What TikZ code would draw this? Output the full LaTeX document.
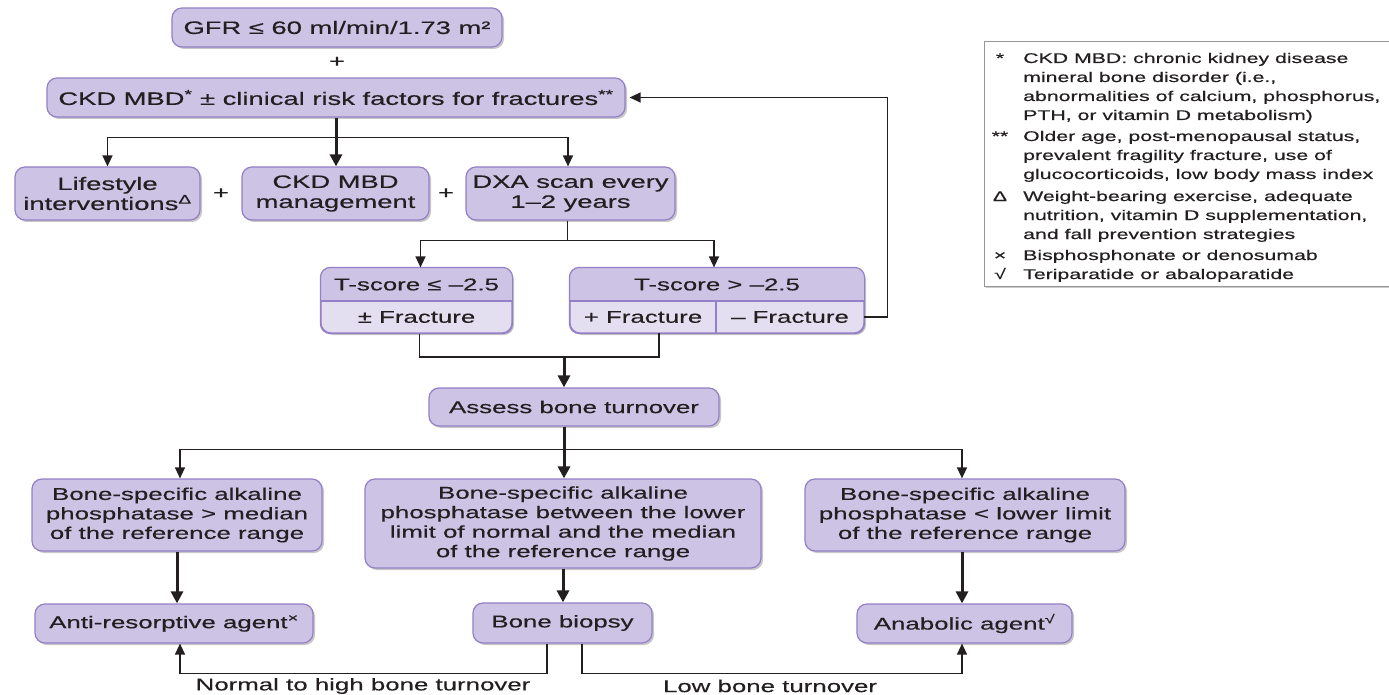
\documentclass[tikz,border=0pt]{standalone}
\usepackage{fontspec}
\setmainfont{Liberation Sans}[FakeStretch=1.52,FakeBold=0.4]
\usetikzlibrary{arrows.meta,shadows,calc}
\definecolor{boxfill}{RGB}{204,195,229}
\definecolor{boxlight}{RGB}{227,222,240}
\definecolor{boxline}{RGB}{148,128,198}
\definecolor{ink}{RGB}{35,31,32}
\definecolor{legline}{RGB}{150,150,150}
\newcommand\mainsz{\fontsize{17}{19.5}\selectfont}
\newcommand\topsz{\fontsize{18}{20}\selectfont}
\newcommand\legsz{\fontsize{14}{19}\selectfont}
\begin{document}
\begin{tikzpicture}[x=1pt,y=-1pt,
  every node/.style={text=ink},
  box/.style={draw=boxline, line width=1.2pt, fill=boxfill, rounded corners=10pt,
    align=center, inner sep=0pt, font=\mainsz,
    drop shadow={shadow xshift=2pt,shadow yshift=-2pt,opacity=0.22,fill=black}},
  topbox/.style={box, font=\topsz},
  cell/.style={inner sep=0pt, align=center, font=\mainsz},
  plus/.style={inner sep=0pt, font=\topsz},
  ln/.style={draw=ink, line width=1.3pt},
  lnthick/.style={draw=ink, line width=3pt},
  arr/.style={ln, -{Triangle[length=11pt,width=10pt]}},
  arrthick/.style={lnthick, -{Triangle[length=12pt,width=12pt]}},
  legtext/.style={inner sep=0pt, font=\legsz, anchor=base west},
  legsym/.style={inner sep=0pt, font=\legsz, anchor=base},
  lbl/.style={inner sep=0pt, font=\mainsz}]
\useasboundingbox (0,0) rectangle (1389,695);

% ---------- upper part ----------
\node[topbox, minimum width=330, minimum height=39] (gfr) at (337,27.5) {GFR ≤ 60 ml/min/1.73 m²};
\node[plus] (p0) at (337,62) {+};
\node[topbox, minimum width=578, minimum height=39] (ckd) at (336,97.5)
  {CKD MBD\textsuperscript{*} ± clinical risk factors for fractures\textsuperscript{**}};

\node[topbox, minimum width=185, minimum height=53] (life) at (107.5,193.5) {Lifestyle\\interventions\textsuperscript{Δ}};
\node[plus] (p1) at (221,193.5) {+};
\node[topbox, minimum width=187, minimum height=53] (mgmt) at (335.5,193.5) {CKD MBD\\management};
\node[plus] (p2) at (446,193.5) {+};
\node[topbox, minimum width=209, minimum height=53] (dxa) at (570.5,193.5) {DXA scan every\\1–2 years};

% ---------- T-score boxes (two rows each) ----------
\node[box, fill=boxlight, minimum width=191, minimum height=65] (tle) at (416.5,300.5) {};
\node[box, fill=boxlight, minimum width=294, minimum height=65] (tgt) at (717,300.5) {};
\begin{scope}
  \clip[rounded corners=10pt] (tle.north west) rectangle (tle.south east);
  \fill[boxfill] (tle.north west) rectangle (tle.east |- 0,301);
\end{scope}
\begin{scope}
  \clip[rounded corners=10pt] (tgt.north west) rectangle (tgt.south east);
  \fill[boxfill] (tgt.north west) rectangle (tgt.east |- 0,301);
\end{scope}
\draw[boxline, line width=1.2pt, rounded corners=10pt] (tle.north west) rectangle (tle.south east);
\draw[boxline, line width=1.2pt, rounded corners=10pt] (tgt.north west) rectangle (tgt.south east);
\draw[boxline, line width=1.2pt] (tle.west |- 0,301) -- (tle.east |- 0,301);
\draw[boxline, line width=1.2pt] (tgt.west |- 0,301) -- (tgt.east |- 0,301);
\draw[boxline, line width=1.2pt] (716,301) -- (716,333);

\node[cell] (tletop) at (416.5,284.5) {T-score ≤ –2.5};
\node[cell, minimum width=191, minimum height=32] (tlebot) at (416.5,317) {± Fracture};
\node[cell] (tgttop) at (717,284.5) {T-score > –2.5};
\node[cell, minimum width=146, minimum height=32] (tgp) at (643,317) {+ Fracture};
\node[cell, minimum width=148, minimum height=32] (tgm) at (790,317) {– Fracture};

% ---------- assessment and treatment ----------
\node[box, minimum width=290, minimum height=38] (assess) at (574,407) {Assess bone turnover};

\node[box, minimum width=290, minimum height=72] (bl) at (177,515)
  {Bone-specific alkaline\\phosphatase > median\\of the reference range};
\node[box, minimum width=396, minimum height=89] (bm) at (563,523.5)
  {Bone-specific alkaline\\phosphatase between the lower\\limit of normal and the median\\of the reference range};
\node[box, minimum width=320, minimum height=72] (br) at (965,515)
  {Bone-specific alkaline\\phosphatase < lower limit\\of the reference range};

\node[box, minimum width=278, minimum height=39] (ar) at (174,623.5) {Anti-resorptive agent\textsuperscript{×}};
\node[box, minimum width=179, minimum height=40] (bb) at (562.5,623) {Bone biopsy};
\node[box, minimum width=215, minimum height=39] (an) at (964.5,623.5) {Anabolic agent\textsuperscript{√}};

\node[lbl] (lnorm) at (363,686) {Normal to high bone turnover};
\node[lbl] (llow) at (770,686) {Low bone turnover};

% ---------- connectors ----------
\coordinate (j1) at ($(ckd.south)+(0,20)$);
\draw[arr] (j1) -| (life.north);
\draw[arr] (j1) -| ([xshift=-2.5pt]dxa.north);
\draw[arrthick] (ckd.south) -- (ckd.south |- mgmt.north);

\draw[ln] ([xshift=-3pt]dxa.south) -- ++(0,20) coordinate (j2);
\draw[arr] (j2) -| ([xshift=4pt]tle.north);
\draw[arr] (j2) -| ([xshift=-3pt]tgt.north);

\draw[arr, shorten >=4pt] (tgm.east) -- ++(23,0) |- (ckd.east);

\coordinate (j3) at (564,357);
\draw[ln] ([xshift=3pt]tle.south) |- (j3) -| ([xshift=16pt]tgp.south);
\draw[arrthick] (j3) -- (j3 |- assess.north);

\draw[lnthick] (j3 |- assess.south) -- ++(0,23) coordinate (j4);
\draw[arr] (j4) -| ([xshift=3pt]bl.north);
\draw[arr] (j4) -| ([xshift=-3pt]br.north);
\draw[arrthick] (j4) -- (j4 |- bm.north);

\draw[arrthick] (bl.south) -- (bl.south |- ar.north);
\draw[arrthick] (bm.south) -- (bm.south |- bb.north);
\draw[arrthick] ([xshift=-3pt]br.south) -- ([xshift=-3pt]br.south |- an.north);

\draw[arr] ([xshift=-15.5pt]bb.south) -- ++(0,30) -| ([xshift=6pt]ar.south);
\draw[arr] ([xshift=19.5pt]bb.south) -- ++(0,30) -| ([xshift=-2.5pt]an.south);

% ---------- legend ----------
\filldraw[fill=white, draw=legline, line width=1pt,
  drop shadow={shadow xshift=2pt,shadow yshift=-2pt,opacity=0.2,fill=black}]
  (984,42) rectangle (1395,286);
\node[legsym] (s1) at (1000,63) {*};
\node[legtext] (t1a) at (1023,63) {CKD MBD: chronic kidney disease};
\node[legtext] (t1b) at (1023,82) {mineral bone disorder (i.e.,};
\node[legtext] (t1c) at (1023,101) {abnormalities of calcium, phosphorus,};
\node[legtext] (t1d) at (1023,120) {PTH, or vitamin D metabolism)};
\node[legsym] (s2) at (1000,141) {**};
\node[legtext] (t2a) at (1023,141) {Older age, post-menopausal status,};
\node[legtext] (t2b) at (1023,160) {prevalent fragility fracture, use of};
\node[legtext] (t2c) at (1023,179) {glucocorticoids, low body mass index};
\node[legsym] (s3) at (1000,201) {Δ};
\node[legtext] (t3a) at (1023,201) {Weight-bearing exercise, adequate};
\node[legtext] (t3b) at (1023,220) {nutrition, vitamin D supplementation,};
\node[legtext] (t3c) at (1023,239) {and fall prevention strategies};
\node[legsym] (s4) at (1000,260) {×};
\node[legtext] (t4) at (1023,260) {Bisphosphonate or denosumab};
\node[legsym] (s5) at (1000,279) {√};
\node[legtext] (t5) at (1023,279) {Teriparatide or abaloparatide};
\end{tikzpicture}
\end{document}
